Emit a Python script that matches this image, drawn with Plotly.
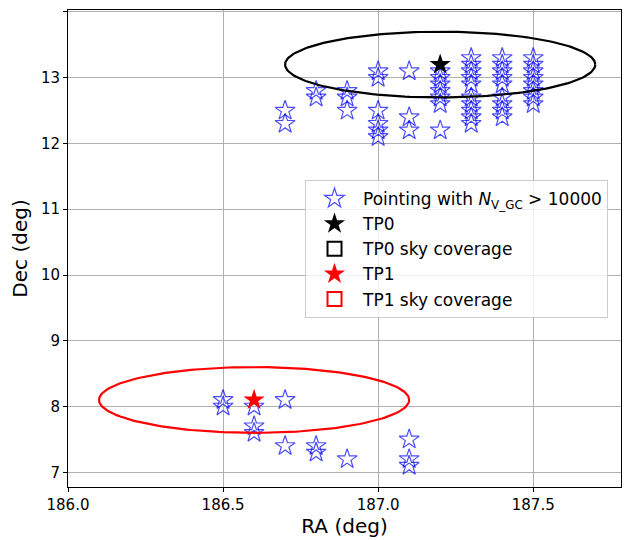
import numpy as np
import plotly.graph_objects as go

# Pointings with N_V_GC > 10000 (RA, Dec in deg)
pt_ra = (
    [186.7] * 2 + [186.8] * 2 + [186.9] * 3 + [187.0] * 6 + [187.1] * 3
    + [187.2] * 7 + [187.3] * 10 + [187.4] * 9 + [187.5] * 8
    + [186.5] * 2 + [186.6] * 3 + [186.7] * 2 + [186.8] * 2 + [186.9] * 1 + [187.1] * 3
)
pt_dec = (
    [12.5, 12.3]
    + [12.8, 12.7]
    + [12.8, 12.7, 12.5]
    + [13.1, 13.0, 12.5, 12.3, 12.2, 12.1]
    + [13.1, 12.4, 12.2]
    + [13.1, 13.0, 12.9, 12.8, 12.7, 12.6, 12.2]
    + [13.3, 13.2, 13.1, 13.0, 12.9, 12.7, 12.6, 12.5, 12.4, 12.3]
    + [13.3, 13.2, 13.1, 13.0, 12.9, 12.7, 12.6, 12.5, 12.4]
    + [13.3, 13.2, 13.1, 13.0, 12.9, 12.8, 12.7, 12.6]
    + [8.1, 8.0]
    + [8.0, 7.7, 7.6]
    + [8.1, 7.4]
    + [7.4, 7.3]
    + [7.2]
    + [7.5, 7.2, 7.1]
)

tp0_center = (187.2, 13.2)
tp1_center = (186.6, 8.1)
fov_radius = 0.5

x_ticks = [186.0, 186.5, 187.0, 187.5]
y_ticks = [7, 8, 9, 10, 11, 12, 13, 14]


def circle(center, r, n=200):
    t = np.linspace(0, 2 * np.pi, n)
    return center[0] + r * np.cos(t), center[1] + r * np.sin(t)


fig = go.Figure()

fig.add_trace(go.Scatter(
    x=pt_ra, y=pt_dec, mode="markers",
    marker=dict(symbol="star-open", size=15, color="rgba(0,0,255,0.7)",
                line=dict(width=1.2, color="rgba(0,0,255,0.7)")),
    name="Pointing with <i>N</i><sub>V_GC</sub> > 10000",
))

fig.add_trace(go.Scatter(
    x=[tp0_center[0]], y=[tp0_center[1]], mode="markers",
    marker=dict(symbol="star", size=16, color="black"),
    name="TP0",
))

cx, cy = circle(tp0_center, fov_radius)
fig.add_trace(go.Scatter(
    x=cx, y=cy, mode="lines",
    line=dict(color="black", width=2.2),
    showlegend=False, legendgroup="c0",
))
fig.add_trace(go.Scatter(
    x=[None], y=[None], mode="markers",
    marker=dict(symbol="square-open", size=14, color="black", line=dict(width=2)),
    name="TP0 sky coverage", legendgroup="c0",
))

fig.add_trace(go.Scatter(
    x=[tp1_center[0]], y=[tp1_center[1]], mode="markers",
    marker=dict(symbol="star", size=16, color="red"),
    name="TP1",
))

cx, cy = circle(tp1_center, fov_radius)
fig.add_trace(go.Scatter(
    x=cx, y=cy, mode="lines",
    line=dict(color="red", width=2.2),
    showlegend=False, legendgroup="c1",
))
fig.add_trace(go.Scatter(
    x=[None], y=[None], mode="markers",
    marker=dict(symbol="square-open", size=14, color="red", line=dict(width=2)),
    name="TP1 sky coverage", legendgroup="c1",
))

axis_common = dict(
    showgrid=True, gridcolor="#b0b0b0", gridwidth=1,
    showline=True, linecolor="black", linewidth=1, mirror=True,
    ticks="outside", ticklen=4, tickcolor="black",
    tickfont=dict(size=15, color="black", family="DejaVu Sans"),
    zeroline=False, automargin=False,
)

# page body has an 8px default margin; compensate so the plot lands where the reference has it
fig.update_layout(
    width=625, height=532,
    margin=dict(l=60, r=12, t=2, b=53),
    paper_bgcolor="white", plot_bgcolor="white",
    font=dict(family="DejaVu Sans", color="black"),
    xaxis=dict(range=[186.0, 187.783], tickvals=x_ticks,
               ticktext=[f"{v:.1f}" for v in x_ticks],
               title=dict(text="RA (deg)", font=dict(size=20), standoff=4),
               **axis_common),
    yaxis=dict(range=[6.776, 14.03], tickvals=y_ticks,
               title=dict(text="Dec (deg)", font=dict(size=20), standoff=11),
               **axis_common),
    legend=dict(x=0.4286, y=0.6436, xanchor="left", yanchor="top",
                bgcolor="rgba(255,255,255,0.8)", bordercolor="#cccccc", borderwidth=1,
                font=dict(size=17, family="DejaVu Sans"), tracegroupgap=0,
                itemwidth=47),
    showlegend=True,
)

fig.write_html("out.html")
